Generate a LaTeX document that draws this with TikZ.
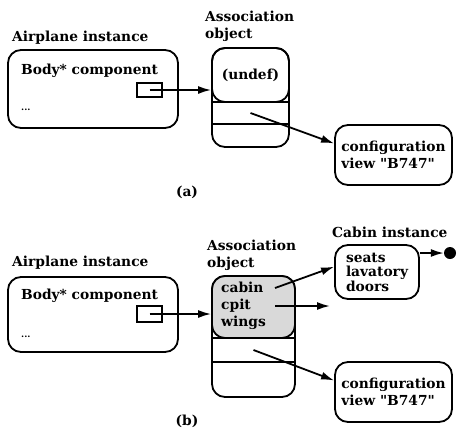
\documentclass[tikz,border=0pt]{standalone}
\usepackage{fontspec}
\setmainfont{DejaVu Serif}[Ligatures=TeXOff]
\usepackage{tikz}
\usetikzlibrary{arrows.meta, calc}

\begin{document}
\begin{tikzpicture}[x=1pt, y=-1pt,
  every node/.style={font=\fontsize{13.8}{17}\selectfont\bfseries, inner sep=0pt},
  box/.style={draw, line width=1.8pt, rounded corners=13pt},
  slotbox/.style={draw, line width=1.8pt},
  ptr/.style={draw, line width=1.5pt, minimum width=25pt, minimum height=14pt},
  arr/.style={line width=1.8pt, -{Latex[length=13pt,width=8pt]}},
  lbl/.style={anchor=west, align=left},
  dotsfont/.style={font=\fontsize{9}{10}\selectfont\bfseries}]

\useasboundingbox (0,0) rectangle (457,429);

%// (a) before the cabin is bound

\node[lbl] (airAl) at (12,38) {Airplane instance};
\node[box, minimum width=170pt, minimum height=78pt] (airA) at (93,89) {};
\node[lbl] (bodyA) at (21,71) {Body* component};
\node[lbl, dotsfont] (dotsA) at (21,110) {...};
\node[ptr] (ptrA) at (149.5,90) {};

\node[lbl] (asAl) at (205,26.5) {Association\\object};
\node[box, minimum width=77pt, minimum height=99pt] (asA) at (250.5,97.5) {};
\node[box, minimum width=77pt, minimum height=54pt] (topA) at (250.5,75) {(undef)};
\node[slotbox, minimum width=77pt, minimum height=22pt] (slotA) at (250.5,113) {};

\node[box, minimum width=117pt, minimum height=60pt, align=left] (confA) at (393.5,155) {configuration\\view "B747"};

\draw[arr] (ptrA.center) -- (ptrA.center -| asA.west);
\draw[arr] (slotA.center) -- (confA.169);

\node (labA) at (187,192) {(a)};

%// (b) after the cabin is bound

\node[lbl] (airBl) at (12,263) {Airplane instance};
\node[box, minimum width=170pt, minimum height=75pt] (airB) at (93,314.5) {};
\node[lbl] (bodyB) at (21,296) {Body* component};
\node[lbl, dotsfont] (dotsB) at (21,337) {...};
\node[ptr, minimum height=16pt] (ptrB) at (149.5,314) {};

\node[lbl] (asBl) at (207,255) {Association\\object};
\node[box, minimum width=83pt, minimum height=121pt] (asB) at (253.5,336.5) {};
\node[box, fill=gray!30, minimum width=83pt, minimum height=62pt] (topB) at (253.5,307) {};
\node[slotbox, minimum width=83pt, minimum height=24pt] (slotB) at (253.5,350) {};
\node[lbl] (fieldsB) at (221,306) {cabin\\cpit\\wings};

\node[lbl] (cabBl) at (332,232) {Cabin instance};
\node[box, minimum width=84pt, minimum height=54pt, align=left,
      font=\fontsize{13.8}{14.5}\selectfont\bfseries] (cabB) at (377,272) {seats\\lavatory\\doors};
\node[circle, fill, minimum size=12pt] (endB) at (450,253) {};

\node[box, minimum width=117pt, minimum height=60pt, align=left] (confB) at (393.5,392) {configuration\\view "B747"};

\coordinate (cabinB) at (275,288);
\coordinate (cpitB) at (275,306);
\coordinate (cpitE) at (330,306);

\draw[arr] (ptrB.center) -- (ptrB.center -| asB.west);
\draw[arr] (cabinB) -- (cabB.173);
\draw[arr] (cpitB) -- (cpitE);
\draw[arr] (slotB.center) -- (confB.169);
\draw[arr] (cabB.east |- endB) -- (endB.west);

\node (labB) at (187,421) {(b)};
\end{tikzpicture}
\end{document}
